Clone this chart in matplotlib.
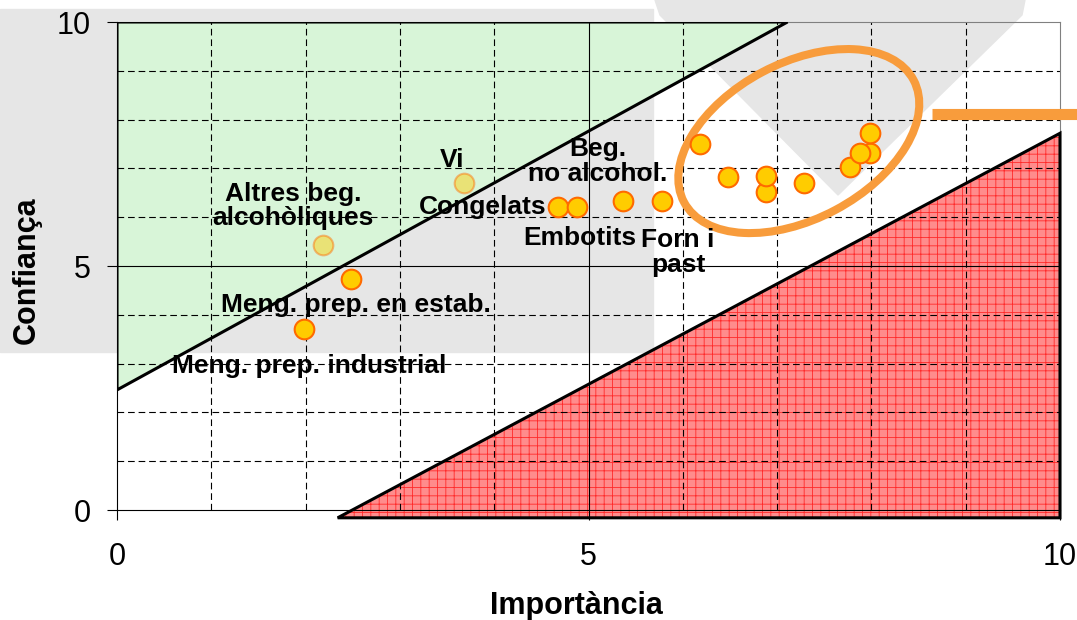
import matplotlib

matplotlib.use("Agg")
import matplotlib.pyplot as plt
import matplotlib.patches as mpatches
import matplotlib.transforms as mtransforms
from matplotlib.lines import Line2D

plt.rcParams["font.family"] = ["Liberation Sans", "DejaVu Sans"]
plt.rcParams["hatch.linewidth"] = 0.6

# points (importance, confidence); the first two sit inside the green zone, drawn faded
importancia = [2.18, 3.68, 2.48, 1.98, 4.68, 4.88, 5.37, 5.78,
               6.18, 6.48, 6.88, 6.88, 7.28, 7.77, 7.98, 7.88, 7.98]
confianca = [5.43, 6.70, 4.74, 3.71, 6.20, 6.20, 6.33, 6.33,
             7.51, 6.83, 6.52, 6.84, 6.71, 7.03, 7.32, 7.32, 7.73]
faded = [True, True] + [False] * 15

label_text = ["Altres beg.\nalcohòliques", "Vi", "Meng. prep. en estab.",
              "Meng. prep. industrial", "Congelats", "Embotits",
              "Beg.\nno alcohol.", "Forn i\npast"]
label_x = [1.87, 3.55, 2.53, 2.04, 3.88, 4.91, 5.10, 5.95]
label_y = [6.23, 7.17, 4.20, 2.95, 6.21, 5.57, 7.14, 5.27]

# zones
green_x = [0, 0, 7.11]
green_y = [2.46, 10, 10]
red_x = [2.34, 10, 10]
red_y = [-0.16, -0.16, 7.72]

GRID = [1, 2, 3, 4, 5, 6, 7, 8, 9]
GRAY = "#e6e6e6"
ORANGE = "#f89c3c"

W, H = 1077, 620
fig = plt.figure(figsize=(W / 100, H / 100), dpi=100)
ax = fig.add_axes([117 / W, 1 - 510 / H, 943 / W, 488 / H])
ax.set_facecolor("none")

# background decorations (behind the axes)
fig.patches.append(mpatches.Rectangle((0, 1 - 352 / H), 653 / W, 343 / H,
                                      transform=fig.transFigure, color=GRAY,
                                      zorder=-2))
funnel = [(655, 0), (1025, 0), (1022, 15), (838, 195), (660, 15)]
fig.patches.append(mpatches.Polygon([(px / W, 1 - py / H) for px, py in funnel],
                                    closed=True, transform=fig.transFigure,
                                    color=GRAY, zorder=-2))
fig.lines.append(Line2D([932 / W, 1.0], [1 - 114 / H] * 2, transform=fig.transFigure,
                        color=ORANGE, lw=8, solid_capstyle="butt"))

ax.set_xlim(0, 10)
ax.set_ylim(0, 10)

# zones
ax.add_patch(mpatches.Polygon(list(zip(green_x, green_y)), closed=True,
                              facecolor="#d8f5d8", edgecolor="none", zorder=1))
ax.add_patch(mpatches.Polygon(list(zip(red_x, red_y)), closed=True,
                              facecolor="#ff8c8c", edgecolor="#ff2a2a", lw=0,
                              hatch="++", zorder=1, clip_on=False))

for g in GRID:
    ls = "-" if g == 5 else (0, (6, 3.5))
    ax.axvline(g, color="black", lw=0.8, ls=ls, zorder=2)
    ax.axhline(g, color="black", lw=0.8, ls=ls, zorder=2)

ax.add_patch(mpatches.Polygon(list(zip(green_x, green_y)), closed=True,
                              facecolor="none", edgecolor="black", lw=2.2, zorder=3))
ax.add_patch(mpatches.Polygon(list(zip(red_x, red_y)), closed=True,
                              facecolor="none", edgecolor="black", lw=2.2, zorder=3,
                              clip_on=False))

# ellipse around the high-importance cluster
ell_tr = fig.dpi_scale_trans + mtransforms.ScaledTranslation(7.23, 7.56, ax.transData)
ax.add_patch(mpatches.Ellipse((0, 0), 2.6, 1.56, angle=28, transform=ell_tr,
                              facecolor="none", edgecolor=ORANGE, lw=5.8, zorder=4,
                              clip_on=False))

for xi, yi, f in zip(importancia, confianca, faded):
    ax.scatter(xi, yi, s=200, facecolor="#ffcc00", edgecolor="#ff6a00", lw=1.5,
               alpha=0.45 if f else 1.0, zorder=5)

for t, lx, ly in zip(label_text, label_x, label_y):
    ax.text(lx, ly, t, ha="center", va="center", fontsize=19, fontweight="bold",
            linespacing=1.05, zorder=6)

for side in ["left", "bottom"]:
    ax.spines[side].set_color("black")
    ax.spines[side].set_linewidth(0.8)
for side in ["top", "right"]:
    ax.spines[side].set_color("#808080")
    ax.spines[side].set_linewidth(0.8)

ax.set_xticks([0, 5, 10])
ax.set_yticks([0, 5, 10])
ax.tick_params(axis="both", direction="out", length=7, width=0.8, labelsize=22)
ax.tick_params(axis="x", pad=16)
ax.tick_params(axis="y", pad=12)

ax.set_xlabel("Importància", fontsize=22, fontweight="bold")
ax.xaxis.set_label_coords(0.487, -0.165)
ax.set_ylabel("Confiança", fontsize=22, fontweight="bold")
ax.yaxis.set_label_coords(-0.080, 0.492)

fig.savefig("out.png", dpi=100)
